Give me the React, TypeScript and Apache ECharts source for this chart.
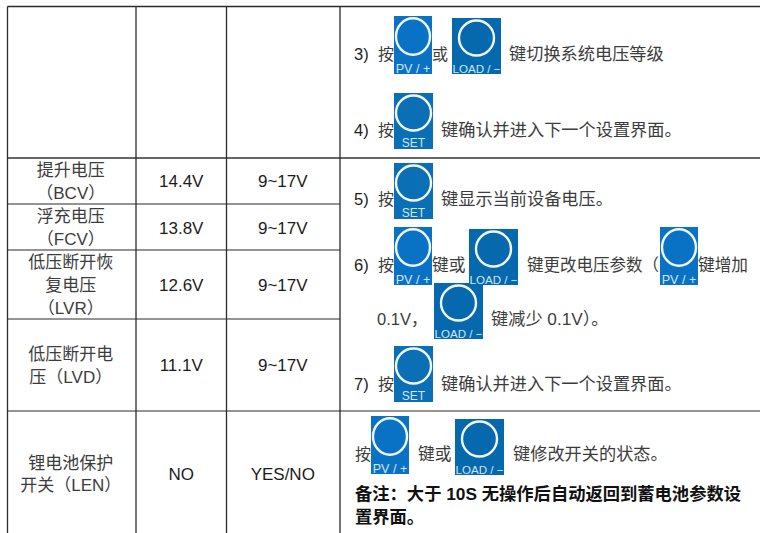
import React, { useEffect, useRef } from "react";
import * as echarts from "echarts";

// ---- table content ----
const paramNames = [
  ["提升电压", "（BCV）"],
  ["浮充电压", "（FCV）"],
  ["低压断开恢", "复电压", "（LVR）"],
  ["低压断开电", "压（LVD）"],
  ["锂电池保护", "开关（LEN）"],
];
const defaults = ["14.4V", "13.8V", "12.6V", "11.1V", "NO"];
const ranges = ["9~17V", "9~17V", "9~17V", "9~17V", "YES/NO"];
const note = ["备注：大于 10S 无操作后自动返回到蓄电池参数设", "置界面。"];
const buttonLabels = { pv: "PV / +", load: "LOAD / −", set: "SET" };

// ---- layout ----
const W = 760;
const H = 533;
const colX = [7.5, 136, 226.5, 340];
const rowY = [6.5, 158, 204, 250, 319, 411];
const fullRows = [0, 1, 5];
const paramLineYs = [[170, 193], [216, 239], [262, 285, 308], [354, 377], [463, 485]];
const valueYs = [181, 228, 285, 365, 474];

const CJK = '"Liberation Sans","Noto Sans CJK SC",sans-serif';
const BODY = "#3c3c3c";
const INK = "#1c1c1c";
const STEP = 17.2;

const txt = (text: string, x: number, y: number, o: any = {}) => ({
  type: "text",
  x,
  y,
  silent: true,
  style: {
    text,
    fontFamily: CJK,
    fontSize: o.size ?? STEP,
    fontWeight: o.weight ?? "normal",
    fill: o.fill ?? BODY,
    align: o.align ?? "left",
    verticalAlign: "middle",
  },
});

const line = (x1: number, y1: number, x2: number, y2: number, width = 1.3, c = "#2b2b2b") => ({
  type: "line",
  silent: true,
  shape: { x1, y1, x2, y2 },
  style: { stroke: c, lineWidth: width },
});

const button = (kind: "pv" | "load" | "set", x: number, y: number) => {
  const dims = {
    pv: { w: 38, h: 58, fill: "#0a72c4", cy: 20.5, rx: 17, ry: 18.2, size: 12.6, by: 5.5 },
    load: { w: 49, h: 56, fill: "#0669ad", cy: 20, rx: 17.5, ry: 17.5, size: 11.6, by: 5.5 },
    set: { w: 39, h: 56, fill: "#0a6fb5", cy: 20, rx: 17.5, ry: 17.5, size: 12, by: 6 },
  }[kind];
  return {
    type: "group",
    x,
    y,
    silent: true,
    children: [
      { type: "rect", shape: { x: 0, y: 0, width: dims.w, height: dims.h }, style: { fill: dims.fill } },
      {
        type: "ellipse",
        shape: { cx: dims.w / 2, cy: dims.cy, rx: dims.rx, ry: dims.ry },
        style: { fill: "none", stroke: "#f0f6fb", lineWidth: 2.4 },
      },
      {
        type: "text",
        x: dims.w / 2,
        y: dims.h - dims.by,
        style: {
          text: buttonLabels[kind],
          fontFamily: '"Liberation Sans",sans-serif',
          fontSize: dims.size,
          fill: "#cfe6f7",
          align: "center",
          verticalAlign: "middle",
        },
      },
    ],
  };
};

const buildGraphics = () => {
  const els: any[] = [];
  // grid
  rowY.forEach((y, i) => {
    const full = fullRows.includes(i);
    els.push(line(colX[0], y, full ? W : colX[3], y, i < 2 ? 1.6 : 1.2, i === 1 ? "#333" : "#2b2b2b"));
  });
  colX.forEach((x) => els.push(line(x, rowY[0], x, H, 1.3)));

  // left columns
  paramNames.forEach((lines, i) => {
    lines.forEach((t, j) => {
      els.push(txt(t, (colX[0] + colX[1]) / 2 - 1, paramLineYs[i][j], { align: "center", size: 17 }));
    });
    const mid1 = (colX[1] + colX[2]) / 2;
    const mid2 = (colX[2] + colX[3]) / 2 - 0.5;
    els.push(txt(defaults[i], mid1, valueYs[i], { align: "center", fill: INK, size: 17 }));
    els.push(txt(ranges[i], mid2, valueYs[i], { align: "center", fill: INK, size: 17 }));
  });

  // steps
  const num = (t: string, y: number) => els.push(txt(t, 354, y, { fill: INK, size: 16.5 }));
  const an = (y: number) => els.push(txt("按", 378, y, { size: 16 }));

  num("3)", 54); an(54);
  els.push(button("pv", 394, 16), txt("或", 432, 54, { size: 16 }), button("load", 452, 18), txt("键切换系统电压等级", 509, 54));

  num("4)", 130); an(130);
  els.push(button("set", 394, 93), txt("键确认并进入下一个设置界面。", 441, 130));

  num("5)", 199); an(199);
  els.push(button("set", 394, 163), txt("键显示当前设备电压。", 441, 199));

  // the lower LOAD button goes first: the upper one's caption sits over its top edge
  els.push(txt("0.1V，", 377, 319, { size: 16.5 }), button("load", 434, 283), txt("键减少 0.1V）。", 491, 319));

  num("6)", 265); an(265);
  els.push(
    button("pv", 394, 227),
    txt("键或", 432, 265, { size: 16.7 }),
    button("load", 469, 229),
    txt("键更改电压参数（", 527, 265, { size: 16.5 }),
    button("pv", 660, 227),
    txt("键增加", 698, 265, { size: 16.7 })
  );

  num("7)", 384); an(384);
  els.push(button("set", 394, 346), txt("键确认并进入下一个设置界面。", 441, 384));

  els.push(
    txt("按", 355, 454, { size: 16 }),
    button("pv", 371, 416),
    txt("键或", 418, 454, { size: 16.7 }),
    button("load", 455, 419),
    txt("键修改开关的状态。", 513, 454)
  );

  els.push(txt(note[0], 355, 494, { size: 17.3, weight: "bold", fill: "#111" }));
  els.push(txt(note[1], 355, 517, { size: 17.3, weight: "bold", fill: "#111" }));
  return els;
};

export default function App() {
  const ref = useRef<HTMLDivElement>(null);
  useEffect(() => {
    document.body.style.margin = "0";
    const chart = echarts.init(ref.current!, undefined, { renderer: "svg" });
    chart.setOption({
      animation: false,
      backgroundColor: "#ffffff",
      graphic: { elements: buildGraphics() },
    });
    return () => chart.dispose();
  }, []);
  return <div ref={ref} style={{ width: W, height: H }} />;
}
